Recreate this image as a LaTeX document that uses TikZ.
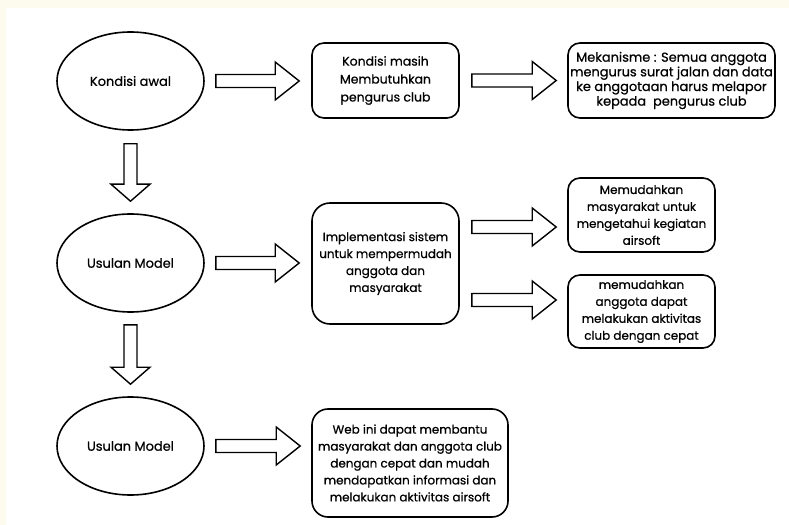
\documentclass[tikz,border=0pt]{standalone}
\usepackage{fontspec}
\setmainfont{Poppins}[FakeBold=0.7]
\usetikzlibrary{shapes.geometric,calc}
\definecolor{cream}{RGB}{252,251,238}
\tikzset{
  oval/.style={draw, ellipse, line width=1.6bp, minimum width=147bp, minimum height=98bp, inner sep=0pt, font=\fontsize{13}{15}\selectfont},
  box/.style={draw, rectangle, rounded corners=12bp, line width=1.6bp, inner sep=0pt, align=center},
  fat/.style={draw, line width=1.4bp, fill=white, line join=miter},
}
\newcommand{\harrow}[2]{%
  \draw[fat] let \p1=(#1), \p2=(#2) in
    (\x1,\y1+6.5bp) -- (\x2-24bp,\y1+6.5bp) -- (\x2-24bp,\y1+19bp) -- (\x2,\y1)
    -- (\x2-24bp,\y1-19bp) -- (\x2-24bp,\y1-6.5bp) -- (\x1,\y1-6.5bp) -- cycle;}
\newcommand{\varrow}[2]{%
  \draw[fat] let \p1=(#1), \p2=(#2) in
    (\x1-6.5bp,\y1) -- (\x1-6.5bp,\y2+17bp) -- (\x1-19.5bp,\y2+17bp) -- (\x1,\y2)
    -- (\x1+19.5bp,\y2+17bp) -- (\x1+6.5bp,\y2+17bp) -- (\x1+6.5bp,\y1) -- cycle;}
\begin{document}
\begin{tikzpicture}[x=1bp,y=-1bp]
\useasboundingbox (0,0) rectangle (789,525);
\fill[cream] (0,0) rectangle (789,525);
\fill[white] (6,8) rectangle (789,525);

\node[oval] (e1) at (130.5,81) {Kondisi awal};
\node[oval] (e2) at (130.5,263) {Usulan Model};
\node[oval] (e3) at (130.5,446) {Usulan Model};

\node[box, minimum width=147bp, minimum height=75bp, font=\fontsize{12.5}{18}\selectfont] (b1) at (385.5,80.5)
  {Kondisi masih\\Membutuhkan\\pengurus club};
\node[box, minimum width=207bp, minimum height=75bp, font=\fontsize{13}{14.7}\selectfont] (b2) at (671.5,80.5)
  {Mekanisme : Semua anggota\\mengurus surat jalan dan data\\ke anggotaan harus melapor\\kepada\ \ pengurus club};
\node[box, rounded corners=18bp, minimum width=147bp, minimum height=121bp, font=\fontsize{12}{17}\selectfont] (b3) at (385.5,263.5)
  {Implementasi sistem\\untuk mempermudah\\anggota dan\\masyarakat};
\node[box, minimum width=147bp, minimum height=74bp, font=\fontsize{12}{17}\selectfont] (b4) at (641.5,215)
  {Memudahkan\\masyarakat untuk\\mengetahui kegiatan\\airsoft};
\node[box, minimum width=147bp, minimum height=73bp, font=\fontsize{12}{17}\selectfont] (b5) at (641.5,311.5)
  {memudahkan\\anggota dapat\\melakukan aktivitas\\club dengan cepat};
\node[box, rounded corners=16bp, minimum width=196bp, minimum height=108bp, font=\fontsize{12}{17}\selectfont] (b6) at (410,463)
  {Web ini dapat membantu\\masyarakat dan anggota club\\dengan cepat dan mudah\\mendapatkan informasi dan\\melakukan aktivitas airsoft};

\coordinate (a1s) at ($(e1.east)+(11,0)$);  \coordinate (a1t) at ($(b1.west)+(-12,0)$);
\coordinate (a2s) at ($(b1.east)+(12,0)$);  \coordinate (a2t) at ($(b2.west)+(-11,0)$);
\coordinate (a3s) at ($(e2.east)+(11,0)$);  \coordinate (a3t) at ($(b3.west)+(-12,0)$);
\coordinate (a4s) at ($(b3.east)+(12,-36.5)$); \coordinate (a4t) at ($(b4.west)+(-11,0)$);
\coordinate (a5s) at ($(b3.east)+(12,36.5)$);  \coordinate (a5t) at ($(b5.west)+(-11,0)$);
\coordinate (a6s) at ($(e3.east)+(11,0)$);  \coordinate (a6t) at ($(b6.west)+(-11,0)$);
\coordinate (v1s) at ($(e1.south)+(0,13)$); \coordinate (v1t) at ($(e2.north)+(0,-12)$);
\coordinate (v2s) at ($(e2.south)+(0,12)$); \coordinate (v2t) at ($(e3.north)+(0,-12)$);

\harrow{a1s}{a1t}
\harrow{a2s}{a2t}
\harrow{a3s}{a3t}
\harrow{a4s}{a4t}
\harrow{a5s}{a5t}
\harrow{a6s}{a6t}
\varrow{v1s}{v1t}
\varrow{v2s}{v2t}
\end{tikzpicture}
\end{document}
